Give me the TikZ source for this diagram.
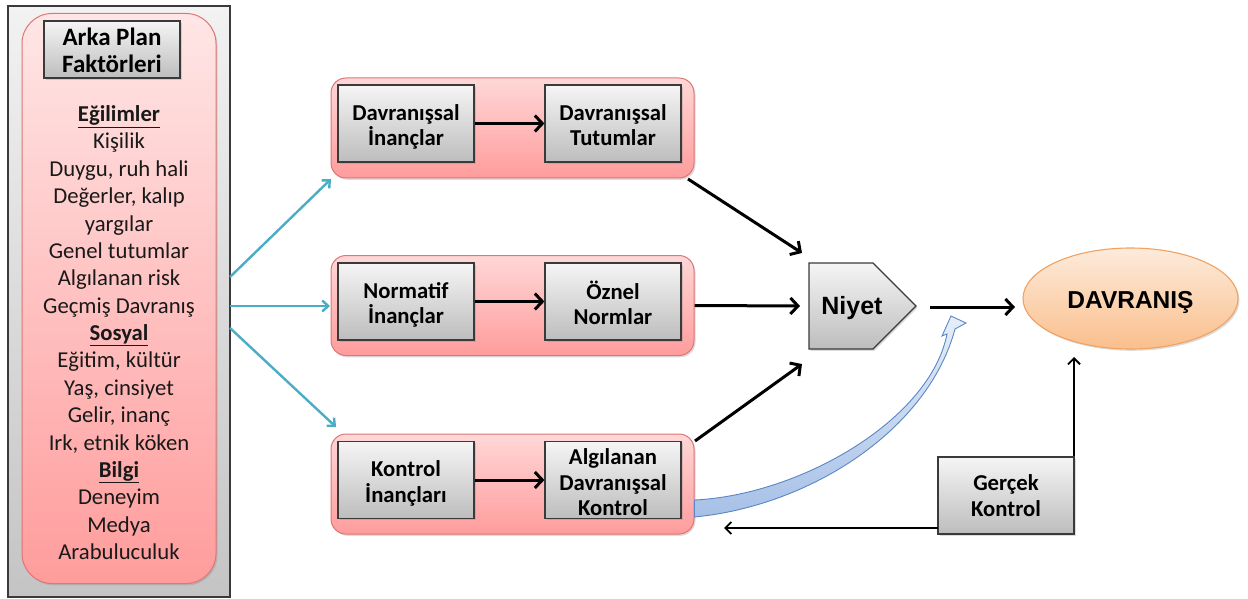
\documentclass[tikz,border=0pt]{standalone}
\usepackage{fontspec}
\setmainfont{Carlito}
\newfontfamily\arialfont{Liberation Sans}
\usetikzlibrary{arrows.meta,shadows,shapes.geometric}

\definecolor{panelTop}{HTML}{F2F2F2}
\definecolor{panelBot}{HTML}{C4C4C4}
\definecolor{pinkTop}{HTML}{FFE6E6}
\definecolor{pinkBot}{HTML}{FF9C9C}
\definecolor{pinkLine}{HTML}{E07575}
\definecolor{greyTop}{HTML}{F5F5F5}
\definecolor{greyBot}{HTML}{BDBDBD}
\definecolor{greyLine}{HTML}{3A3A3A}
\definecolor{orangeTop}{HTML}{FDEBDC}
\definecolor{orangeBot}{HTML}{FABF8C}
\definecolor{orangeLine}{HTML}{F2A160}
\definecolor{tealArrow}{HTML}{4BACC6}
\definecolor{blueTop}{HTML}{E6EEF9}
\definecolor{blueBot}{HTML}{A6C0E6}
\definecolor{blueLine}{HTML}{5B86C5}

\newcommand\listfont{\fontsize{22.7}{27}\selectfont}
\newcommand\bxfont{\bfseries\fontsize{22.7}{25.5}\selectfont}

% grey box with its caption set as a separate node, optionally nudged down
\newcommand\greybox[4][0]{%
  \node[graybox] (#2) at #3 {};
  \node[boxtext] (#2-text) at ([yshift=-#1pt]#2.center) {#4};}

\begin{document}
\begin{tikzpicture}[x=1pt,y=-1pt,
  softshadow/.style={drop shadow={shadow xshift=1.5pt,shadow yshift=-1.8pt,opacity=0.28}},
  panelbox/.style={draw=greyLine,line width=1.3pt,top color=panelTop,bottom color=panelBot,
    minimum width=222pt,minimum height=591pt,inner sep=0pt},
  bigpink/.style={draw=pinkLine,line width=1pt,top color=pinkTop,bottom color=pinkBot,
    rounded corners=30pt,minimum width=194pt,minimum height=570pt,inner sep=0pt,softshadow},
  rowpink/.style={draw=pinkLine,line width=1pt,top color=pinkTop!80!pinkBot,bottom color=pinkBot,
    rounded corners=15pt,minimum width=363pt,minimum height=100pt,inner sep=0pt,softshadow},
  graybox/.style={draw=greyLine,line width=1.2pt,top color=greyTop,bottom color=greyBot,
    minimum width=136pt,minimum height=77pt,inner sep=0pt,softshadow},
  boxtext/.style={align=center,font=\bxfont,inner sep=0pt},
  listline/.style={font=\listfont,text height=0.7em,text depth=0.2em,inner sep=0pt,text=black!90},
  thick arrow/.style={line width=3pt,-{Straight Barb[length=7.5pt,width=16pt]}},
  thin arrow/.style={line width=1.8pt,-{Straight Barb[length=6pt,width=12pt]}},
  teal arrow/.style={draw=tealArrow,line width=2.4pt,-{Straight Barb[length=6pt,width=11pt]}},
]
\useasboundingbox (0,0) rectangle (1248,599);

% left column: background factors
\node[panelbox] (panel) at (119,301.5) {};
\node[bigpink] (factors) at (119,298.5) {};
\node[graybox,minimum height=57pt] (head) at (112,49.5) {};
\node[boxtext,font=\bfseries\fontsize{25}{27}\selectfont] (head-text) at ([yshift=-1pt]head.center)
  {Arka Plan\\Faktörleri};

\foreach \txt [count=\i] in {%
  {\bfseries\underline{Eğilimler}},Kişilik,{Duygu, ruh hali},{Değerler, kalıp},yargılar,
  Genel tutumlar,Algılanan risk,Geçmiş Davranış,{\bfseries\underline{Sosyal}},
  {Eğitim, kültür},{Yaş, cinsiyet},{Gelir, inanç},{Irk, etnik köken},
  {\bfseries\underline{Bilgi}},Deneyim,Medya,Arabuluculuk}
  \node[listline] (item\i) at (119,{119+27.375*(\i-1)}) {\txt};

% three belief rows
\node[rowpink] (row1) at (512.5,128) {};
\node[rowpink] (row2) at (512.5,305.5) {};
\node[rowpink] (row3) at (512.5,484) {};

\greybox[3.5]{b1l}{(406,123.5)}{Davranışsal\\İnançlar}
\greybox[1.5]{b1r}{(613,123.5)}{Davranışsal\\Tutumlar}
\greybox[3.5]{b2l}{(406,301.5)}{Normatif\\İnançlar}
\greybox[1.5]{b2r}{(613,301.5)}{Öznel\\Normlar}
\greybox[3.5]{b3l}{(406,480)}{Kontrol\\İnançları}
\greybox[2.5]{b3r}{(613,480)}{Algılanan\\Davranışsal\\Kontrol}

\draw[thick arrow] (b1l.east) -- (b1r.west);
\draw[thick arrow] (b2l.east) -- (b2r.west);
\draw[thick arrow] (b3l.east) -- (b3r.west);

% intention
\path[draw=greyLine,line width=1.1pt,top color=greyTop,bottom color=greyBot,softshadow]
  (809,263) -- (873,263) -- (916,306) -- (873,349) -- (809,349) -- cycle;
\node[font=\arialfont\bfseries\fontsize{25}{25}\selectfont,inner sep=0pt] (niyet) at (852,308) {Niyet};

% behaviour
\node[ellipse,draw=orangeLine,line width=1.1pt,top color=orangeTop,bottom color=orangeBot,
  minimum width=215pt,minimum height=101pt,inner sep=0pt,softshadow] (davr) at (1130.5,298.5) {};
\node[font=\arialfont\bfseries\fontsize{24.5}{24.5}\selectfont,inner sep=0pt] (davr-text)
  at ([yshift=-3.5pt]davr.center) {DAVRANIŞ};

\greybox[0]{gk}{(1006,495.5)}{Gerçek\\Kontrol}

% connector end points
\coordinate (p1) at (230,277);
\coordinate (p2) at (230,306);
\coordinate (p3) at (230,328);
\coordinate (q1) at (331,179);
\coordinate (q2) at (330,306);
\coordinate (q3) at (336,427);
\coordinate (r1) at (688,179);
\coordinate (r3) at (695,441);
\coordinate (n1) at (802,253);
\coordinate (n2) at (800,306);
\coordinate (n3) at (802,364);
\coordinate (n4) at (930,307);
\coordinate (d1) at (1015,307);
\coordinate (d2) at (1074,357);
\coordinate (g1) at (1074,456);
\coordinate (g2) at (938,528);
\coordinate (k1) at (724,528);

\draw[teal arrow] (p1) -- (q1);
\draw[teal arrow] (p2) -- (q2);
\draw[teal arrow] (p3) -- (q3);

\draw[thick arrow] (r1) -- (n1);
\draw[thick arrow] (row2.east) -- (n2);
\draw[thick arrow] (r3) -- (n3);
\draw[thick arrow] (n4) -- (d1);

\draw[thin arrow] (g1) -- (d2);
\draw[thin arrow] (g2) -- (k1);

% curved arrow from perceived control towards the intention arrow
\path[draw=blueLine,line width=0.9pt,top color=blueTop,bottom color=blueBot]
  (row3.east |- 0,500) .. controls (800,495) and (930,420) .. (947,334)
  -- (942,336) -- (951,316) -- (966,323) -- (955,329)
  .. controls (928,430) and (810,506) .. (row3.east |- 0,517) -- cycle;

\end{tikzpicture}
\end{document}
